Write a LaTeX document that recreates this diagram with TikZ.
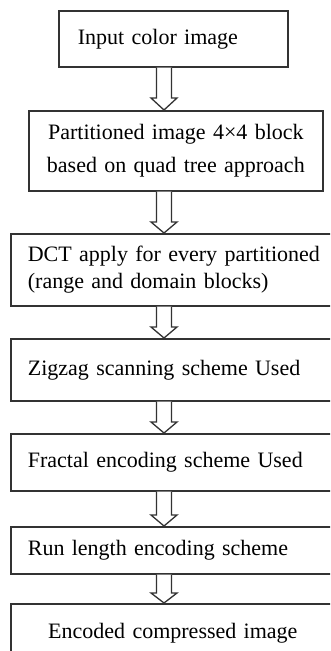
\documentclass[tikz,border=0pt]{standalone}
\usepackage{fontspec}
\setmainfont{Liberation Serif}
\usetikzlibrary{calc}
\tikzset{
  stage/.style={draw=black!80, line width=1.7pt, anchor=north west, inner ysep=0pt,
    font=\fontsize{22}{27}\selectfont},
  hollow/.style={draw=black!80, line width=1.3pt, fill=white},
}
% hollow block arrow from the bottom of one stage to the top of the next
\newcommand{\flowarrow}[3][11]{%
  \draw[hollow] ($(#2.south -| ax)+(-7.5,0)$) -- ($(#3.north -| ax)+(-7.5,#1)$)
    -- ++(-5.5,0) -- (#3.north -| ax) -- ($(#3.north -| ax)+(13,#1)$)
    -- ++(-5.5,0) -- ($(#2.south -| ax)+(7.5,0)$);}
\begin{document}
\begin{tikzpicture}[x=1pt,y=1pt]
 \useasboundingbox (0,0) rectangle (330,-651);
 \clip (0,0) rectangle (330,-651);
 \coordinate (ax) at (164,0);
 \node[stage, text width=191pt, inner xsep=19pt, align=left, minimum height=56pt] (input) at (58,-10) {Input color image};
 \node[stage, text width=274pt, inner xsep=10pt, align=center, minimum height=80pt,
   font=\fontsize{22}{33}\selectfont] (part) at (28,-110) {Partitioned image 4×4 block\\ based on quad tree approach};
 \node[stage, text width=296pt, inner xsep=17pt, align=left, minimum height=72pt] (dct) at (10,-233) {DCT apply for every partitioned\\ (range and domain blocks)};
 \node[stage, text width=296pt, inner xsep=17pt, align=left, minimum height=62pt] (zigzag) at (10,-338) {Zigzag scanning scheme Used};
 \node[stage, text width=296pt, inner xsep=17pt, align=left, minimum height=57pt] (fractal) at (10,-433) {Fractal encoding scheme Used};
 \node[stage, text width=296pt, inner xsep=17pt, align=left, minimum height=47pt] (rle) at (10,-526) {Run length encoding scheme};
 \node[stage, text width=290pt, inner xsep=17pt, align=center, minimum height=58pt] (output) at (10,-603) {Encoded compressed image};
 \flowarrow[12]{input}{part}
 \flowarrow{part}{dct}
 \flowarrow{dct}{zigzag}
 \flowarrow{zigzag}{fractal}
 \flowarrow{fractal}{rle}
 \flowarrow[10]{rle}{output}
\end{tikzpicture}
\end{document}
